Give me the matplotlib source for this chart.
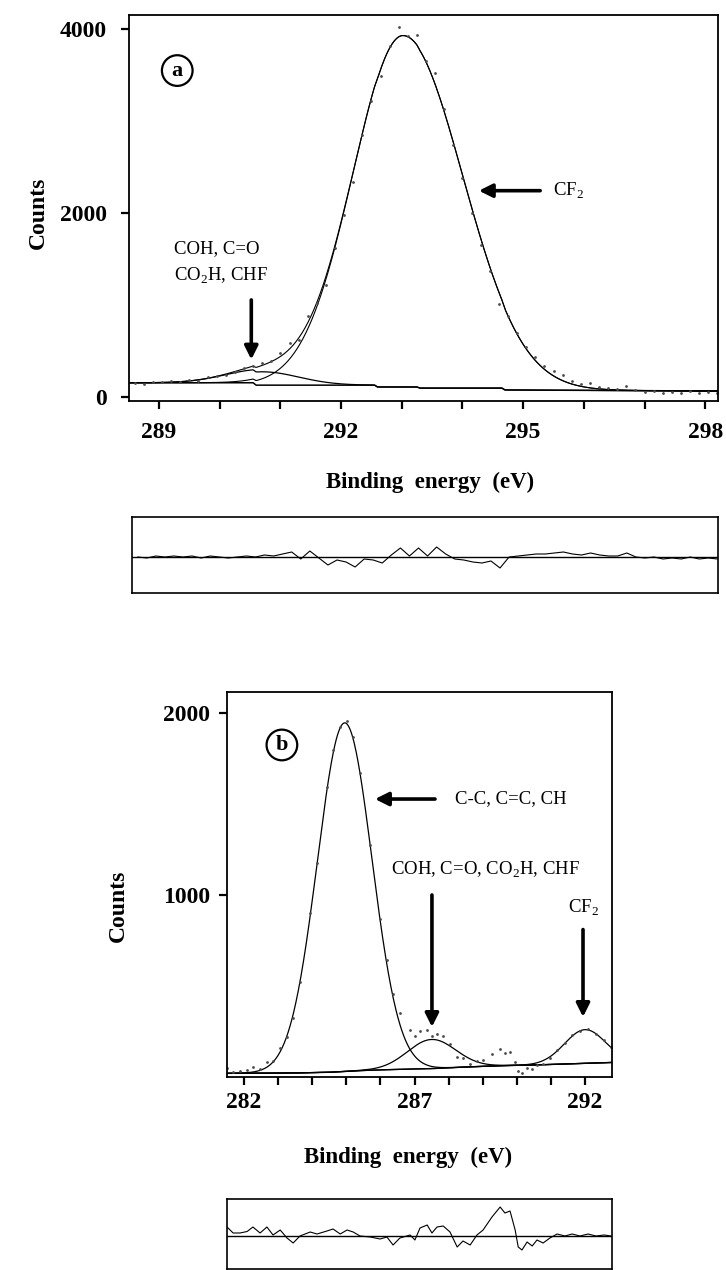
import numpy as np
import matplotlib.pyplot as plt
from matplotlib.ticker import MultipleLocator, FixedLocator

plt.rcParams['font.family'] = 'Liberation Serif'
plt.rcParams['mathtext.fontset'] = 'custom'
plt.rcParams['mathtext.rm'] = 'Liberation Serif'
plt.rcParams['mathtext.bf'] = 'Liberation Serif:bold'

W, H = 726, 1270

# ---- panel (a): C 1s fit
# fitted peaks: COH/C=O/CO2H/CHF and CF2 (centre, height, sigma low / high side)
pk_a_center = [290.70, 293.02]
pk_a_height = [145, 3815]
pk_a_sig_lo = [0.60, 0.82]
pk_a_sig_hi = [0.60, 0.98]
# stepped background
bg_a_e = [288.50, 290.55, 290.60, 292.55, 292.60, 293.25, 293.30, 294.65, 294.70, 298.25]
bg_a_c = [158, 158, 132, 132, 112, 112, 100, 100, 80, 68]
# residual (px in the small box, + up), sampled every 0.15 eV from 288.6 eV
res_a = [0, -1, 1, 0, 1, 0, 1, -1, 1, 0,
         -1, 0, 1, 0, 2, 1, 3, 5, -2, 6,
         -1, -8, -3, -5, -10, -2, -3, -6, 2, 9,
         1, 9, 1, 10, 3, -2, -3, -5, -6, -4,
         -11, 0, 1, 2, 3, 3, 4, 5, 3, 2,
         4, 2, 1, 1, 4, 0, -1, 0, -2, -1,
         -2, 0, -2, -1, -2]
res_a_e = np.round(288.6 + 0.15 * np.arange(len(res_a)), 2)

# ---- panel (b)
# C-C/C=C/CH, COH/C=O/CO2H/CHF, CF2
pk_b_center = [284.95, 287.50, 292.00]
pk_b_height = [1915, 160, 185]
pk_b_sigma = [0.80, 0.70, 0.60]
bg_b_e = [281.5, 283.5, 284.5, 285.5, 286.5, 287.5, 288.5, 289.5, 290.5, 291.5, 292.8]
bg_b_c = [20, 22, 26, 36, 42, 46, 55, 62, 66, 72, 80]
res_b_e = [281.50, 281.68, 281.88, 282.09, 282.26, 282.47, 282.67, 282.85, 283.06, 283.26,
           283.44, 283.64, 283.94, 284.14, 284.43, 284.61, 284.82, 285.02, 285.20, 285.40,
           285.70, 285.99, 286.19, 286.37, 286.57, 286.87, 287.01, 287.16, 287.37, 287.51,
           287.66, 287.84, 288.04, 288.25, 288.42, 288.63, 288.83, 289.01, 289.27, 289.51,
           289.65, 289.80, 289.95, 290.04, 290.15, 290.30, 290.45, 290.59, 290.77, 290.97,
           291.18, 291.41, 291.62, 291.85, 292.09, 292.32, 292.56, 292.76]
res_b = [9, 3, 3, 4.5, 9, 3, 9, 1, 6, -2,
         -7, 0, 4, 2, 5, 7, 2, 6, 4, 0,
         -1, -3, -1, -9, -2, 1, -4, 8, 11, 3,
         9, 10, 4, -11, -5, -9, 1, 6, 19, 29,
         23, 25, 6, -11, -14, -6, -10, -4, -7, -2,
         2, 0, 2, 0, 2, 0, 1, 0]


def gauss(x, c, h, slo, shi):
    s = np.where(x < c, slo, shi)
    return h * np.exp(-(x - c) ** 2 / (2 * s ** 2))


def box(l, t, r, b):
    return [l / W, 1 - b / H, (r - l) / W, (b - t) / H]


def style(ax, lw=1.3):
    for sp in ax.spines.values():
        sp.set_linewidth(lw)


fig = plt.figure(figsize=(W / 100, H / 100), dpi=100)
tick_font = dict(fontsize=17, fontweight='bold')
note = dict(fontsize=13.5, color='k')
arrow = dict(arrowstyle='-|>', lw=2.6, color='k', mutation_scale=20,
             shrinkA=0, shrinkB=0)

# ================= (a)
xa = (288.505, 298.21)
ax = fig.add_axes(box(129, 15, 718, 401))
e = np.linspace(*xa, 600)
bga = np.interp(e, bg_a_e, bg_a_c)
c1 = gauss(e, pk_a_center[0], pk_a_height[0], pk_a_sig_lo[0], pk_a_sig_hi[0])
c2 = gauss(e, pk_a_center[1], pk_a_height[1], pk_a_sig_lo[1], pk_a_sig_hi[1])
ax.plot(bg_a_e, bg_a_c, color='k', lw=1.1)
ax.plot(e, bga + c1, color='k', lw=0.9)
ax.plot(e, bga + c2, color='k', lw=0.8)
ax.plot(e, bga + c1 + c2, color='k', lw=0.8)
# measured points = fit + residual
fit_pts = (np.interp(res_a_e, bg_a_e, bg_a_c)
           + gauss(res_a_e, pk_a_center[0], pk_a_height[0], pk_a_sig_lo[0], pk_a_sig_hi[0])
           + gauss(res_a_e, pk_a_center[1], pk_a_height[1], pk_a_sig_lo[1], pk_a_sig_hi[1]))
ax.plot(res_a_e, fit_pts + 12 * np.array(res_a), ls='none', marker='.', ms=2.0,
        color='0.3')
ax.set_xlim(*xa)
ax.set_ylim(-40, 4150)
ax.xaxis.set_major_locator(FixedLocator([289, 292, 295, 298]))
ax.xaxis.set_minor_locator(MultipleLocator(1))
ax.set_yticks([0, 2000, 4000])
ax.tick_params(which='both', direction='out', length=6, width=1.6, top=False,
               right=False)
ax.tick_params(axis='x', pad=9)
ax.tick_params(axis='y', pad=10)
for lab in ax.get_xticklabels() + ax.get_yticklabels():
    lab.set_fontsize(17)
    lab.set_fontweight('bold')
style(ax)

ax.text(289.30, 3547, 'a', ha='center', va='center', fontsize=16, fontweight='bold',
        bbox=dict(boxstyle='circle,pad=0.24', fc='white', ec='k', lw=1.6))
ax.annotate('', xy=(294.27, 2243), xytext=(295.28, 2243), arrowprops=arrow)
ax.text(295.49, 2243, r'CF$_2$', ha='left', va='center', **note)
ax.text(289.25, 1617, 'COH, C=O', ha='left', va='center', **note)
ax.text(289.25, 1315, r'CO$_2$H, CHF', ha='left', va='center', **note)
ax.annotate('', xy=(290.52, 410), xytext=(290.52, 1057), arrowprops=arrow)

fig.text(38 / W, 1 - 213 / H, 'Counts', rotation=90, ha='center', va='center',
         **tick_font)
fig.text(430 / W, 1 - 482 / H, 'Binding  energy  (eV)', ha='center', va='center',
         fontsize=16.5, fontweight='bold')

# residual (a)
rx = fig.add_axes(box(132, 517, 718, 593))
rx.axhline(0, color='k', lw=1.0)
rx.plot(res_a_e, res_a, color='k', lw=0.8)
rx.set_xlim(*xa)
rx.set_ylim(-36, 40)
rx.set_xticks([])
rx.set_yticks([])
style(rx, 1.2)

# ================= (b)
xb = (281.50, 292.79)
bx = fig.add_axes(box(227, 692, 612, 1077))
e = np.linspace(*xb, 600)
bgb = np.interp(e, bg_b_e, bg_b_c)
bx.plot(bg_b_e, bg_b_c, color='k', lw=1.0)
for c, h, s in zip(pk_b_center, pk_b_height, pk_b_sigma):
    bx.plot(e, bgb + gauss(e, c, h, s, s), color='k', lw=0.9)
fit_b = np.interp(res_b_e, bg_b_e, bg_b_c)
for c, h, s in zip(pk_b_center, pk_b_height, pk_b_sigma):
    fit_b = fit_b + gauss(np.array(res_b_e), c, h, s, s)
bx.plot(res_b_e, fit_b + 3 * np.array(res_b), ls='none', marker='.', ms=2.0,
        color='0.3')
bx.set_xlim(*xb)
bx.set_ylim(0, 2115)
bx.xaxis.set_major_locator(FixedLocator([282, 287, 292]))
bx.xaxis.set_minor_locator(MultipleLocator(1))
bx.set_yticks([1000, 2000])
bx.tick_params(which='both', direction='out', length=6, width=1.6, top=False,
               right=False)
bx.tick_params(axis='x', pad=5)
bx.tick_params(axis='y', pad=6)
for lab in bx.get_xticklabels() + bx.get_yticklabels():
    lab.set_fontsize(17)
    lab.set_fontweight('bold')
style(bx)

bx.text(283.11, 1824, 'b', ha='center', va='center', fontsize=16, fontweight='bold',
        bbox=dict(boxstyle='circle,pad=0.24', fc='white', ec='k', lw=1.6))
bx.annotate('', xy=(285.84, 1527), xytext=(287.60, 1527), arrowprops=arrow)
bx.text(288.19, 1527, 'C-C, C=C, CH', ha='left', va='center', **note)
bx.text(289.07, 1137, r'COH, C=O, CO$_2$H, CHF', ha='center', va='center', **note)
bx.annotate('', xy=(287.51, 275), xytext=(287.51, 1000), arrowprops=arrow)
bx.text(291.94, 930, r'CF$_2$', ha='center', va='center', **note)
bx.annotate('', xy=(291.94, 330), xytext=(291.94, 810), arrowprops=arrow)

fig.text(118 / W, 1 - 906 / H, 'Counts', rotation=90, ha='center', va='center',
         **tick_font)
fig.text(408 / W, 1 - 1157 / H, 'Binding  energy  (eV)', ha='center', va='center',
         fontsize=16.5, fontweight='bold')

# residual (b)
ry = fig.add_axes(box(227, 1199, 612, 1269))
ry.axhline(0, color='k', lw=1.0)
ry.plot(res_b_e, res_b, color='k', lw=0.8)
ry.set_xlim(*xb)
ry.set_ylim(-33, 37)
ry.set_xticks([])
ry.set_yticks([])
style(ry, 1.2)

fig.savefig('out.png', dpi=100)
